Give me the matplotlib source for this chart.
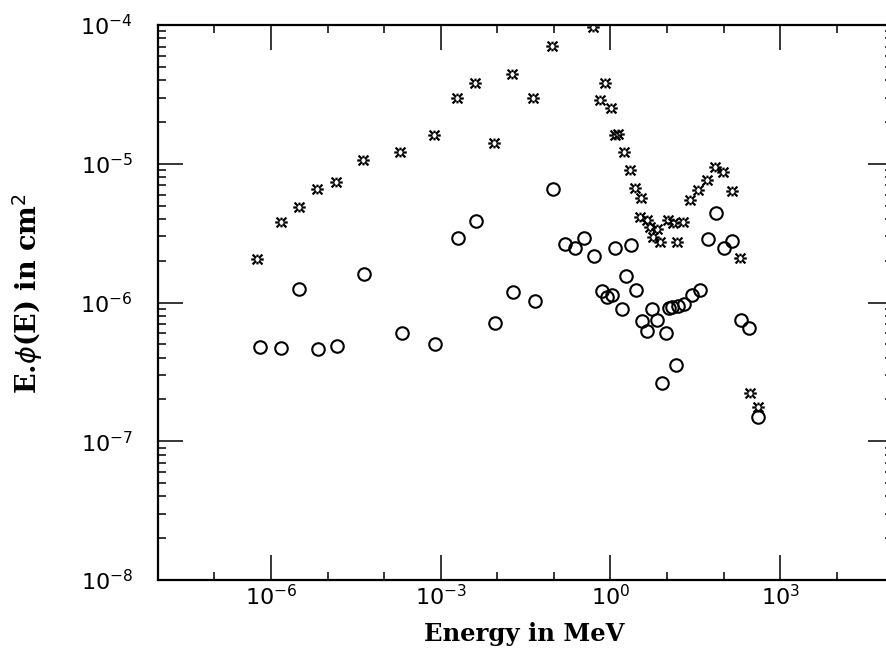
import numpy as np
import matplotlib
matplotlib.use("Agg")
import matplotlib.pyplot as plt
from matplotlib.path import Path
from matplotlib.ticker import FixedLocator, FixedFormatter, LogLocator, NullFormatter

# energy (MeV) and E.phi(E) (cm^2)
star_E = [5.58e-7, 1.48e-6, 3.13e-6, 6.58e-6, 1.41e-5, 4.29e-5, 1.91e-4, 7.62e-4,
          1.94e-3, 4.09e-3, 8.75e-3, 1.80e-2, 4.34e-2, 9.29e-2, 0.486, 0.804,
          0.656, 1.01, 1.23, 1.39, 1.74, 2.22, 2.72, 3.48, 3.34, 4.38, 5.02,
          6.59, 5.74, 7.54, 10.6, 12.9, 14.9, 19.5, 25.6, 35.9, 50.5, 70.8,
          99.3, 140, 196, 294, 412]
star_phi = [2.05e-6, 3.78e-6, 4.85e-6, 6.55e-6, 7.43e-6, 1.06e-5, 1.21e-5, 1.61e-5,
            2.96e-5, 3.84e-5, 1.40e-5, 4.43e-5, 2.96e-5, 7.10e-5, 9.68e-5, 3.80e-5,
            2.88e-5, 2.51e-5, 1.61e-5, 1.64e-5, 1.21e-5, 8.97e-6, 6.65e-6, 5.64e-6,
            4.15e-6, 3.94e-6, 3.52e-6, 3.37e-6, 2.96e-6, 2.74e-6, 3.94e-6, 3.72e-6,
            2.74e-6, 3.82e-6, 5.48e-6, 6.47e-6, 7.64e-6, 9.53e-6, 8.77e-6, 6.41e-6,
            2.09e-6, 2.23e-7, 1.77e-7]

circ_E = [6.38e-7, 1.48e-6, 6.85e-6, 1.45e-5, 3.16e-6, 4.32e-5, 2.04e-4, 7.93e-4,
          2.02e-3, 4.21e-3, 9.12e-3, 1.92e-2, 4.65e-2, 9.68e-2, 0.155, 0.237,
          0.345, 0.518, 1.23, 2.27, 0.703, 0.861, 1.05, 1.89, 2.84, 1.58, 3.58,
          4.38, 5.34, 6.55, 9.64, 10.7, 12.5, 15.4, 20.2, 27.4, 38.5, 14.2, 8.02,
          72.3, 52.1, 103, 141, 207, 286, 412]
circ_phi = [4.80e-7, 4.68e-7, 4.60e-7, 4.85e-7, 1.25e-6, 1.60e-6, 5.98e-7, 5.02e-7,
            2.90e-6, 3.86e-6, 7.11e-7, 1.20e-6, 1.02e-6, 6.58e-6, 2.62e-6, 2.48e-6,
            2.92e-6, 2.16e-6, 2.49e-6, 2.58e-6, 1.21e-6, 1.09e-6, 1.13e-6, 1.54e-6,
            1.23e-6, 8.93e-7, 7.36e-7, 6.24e-7, 8.93e-7, 7.48e-7, 6.03e-7, 9.12e-7,
            9.33e-7, 9.51e-7, 9.79e-7, 1.14e-6, 1.23e-6, 3.55e-7, 2.64e-7, 4.40e-6,
            2.86e-6, 2.49e-6, 2.77e-6, 7.48e-7, 6.52e-7, 1.50e-7]

x_major = [1e-6, 1e-3, 1e0, 1e3]
x_major_labels = [r"$10^{-6}$", r"$10^{-3}$", r"$10^{0}$", r"$10^{3}$"]
x_minor = [1e-7, 1e-5, 1e-4, 1e-2, 1e-1, 1e1, 1e2, 1e4]
y_major = [1e-8, 1e-7, 1e-6, 1e-5, 1e-4]
y_major_labels = [r"$10^{-8}$", r"$10^{-7}$", r"$10^{-6}$", r"$10^{-5}$", r"$10^{-4}$"]

plt.rcParams['mathtext.fontset'] = 'dejavusans'

# asterisk-like marker (8 arms, open centre)
verts, codes = [], []
for ang, r0, r1 in [(45, 0.3, 1.0), (135, 0.3, 1.0), (225, 0.3, 1.0), (315, 0.3, 1.0),
                    (0, 0.3, 0.9), (180, 0.3, 0.9), (90, 0.35, 0.7), (270, 0.35, 0.7)]:
    a = np.deg2rad(ang)
    verts += [(r0*np.cos(a), r0*np.sin(a)), (r1*np.cos(a), r1*np.sin(a))]
    codes += [Path.MOVETO, Path.LINETO]
star_marker = Path(verts, codes)

fig = plt.figure(figsize=(8.87, 6.57), dpi=100)
ax = fig.add_axes([0.178, 0.1172, 0.829, 0.8447])

ax.plot(star_E, star_phi, linestyle='none', marker=star_marker, markersize=9,
        markeredgewidth=1.6, color='black')
ax.plot(circ_E, circ_phi, linestyle='none', marker='o', markersize=9,
        markerfacecolor='none', markeredgecolor='black', markeredgewidth=1.5)

ax.set_xscale('log')
ax.set_yscale('log')
ax.set_xlim(1e-8, 1e5)
ax.set_ylim(1e-8, 1e-4)

ax.xaxis.set_major_locator(FixedLocator(x_major))
ax.xaxis.set_major_formatter(FixedFormatter(x_major_labels))
ax.xaxis.set_minor_locator(FixedLocator(x_minor))
ax.xaxis.set_minor_formatter(NullFormatter())
ax.yaxis.set_major_locator(FixedLocator(y_major))
ax.yaxis.set_major_formatter(FixedFormatter(y_major_labels))
ax.yaxis.set_minor_locator(LogLocator(base=10, subs=range(2, 10)))
ax.yaxis.set_minor_formatter(NullFormatter())

ax.tick_params(which='both', direction='in', top=True, right=True, width=1.1)
ax.tick_params(which='major', length=18, labelsize=16)
ax.tick_params(axis='x', which='major', pad=3)
ax.tick_params(axis='y', which='major', pad=18)
ax.tick_params(which='minor', length=6)
for s in ax.spines.values():
    s.set_linewidth(1.6)

ax.set_xlabel("Energy in MeV", family='DejaVu Serif', fontsize=17.5, fontweight='bold')
ax.set_ylabel(r"E.$\phi$(E) in cm$^2$", family='DejaVu Serif', fontsize=19.5, fontweight='bold')
ax.xaxis.set_label_coords(0.498, -0.075)
ax.yaxis.set_label_coords(-0.154, 0.517)

fig.savefig("out.png", dpi=100)
